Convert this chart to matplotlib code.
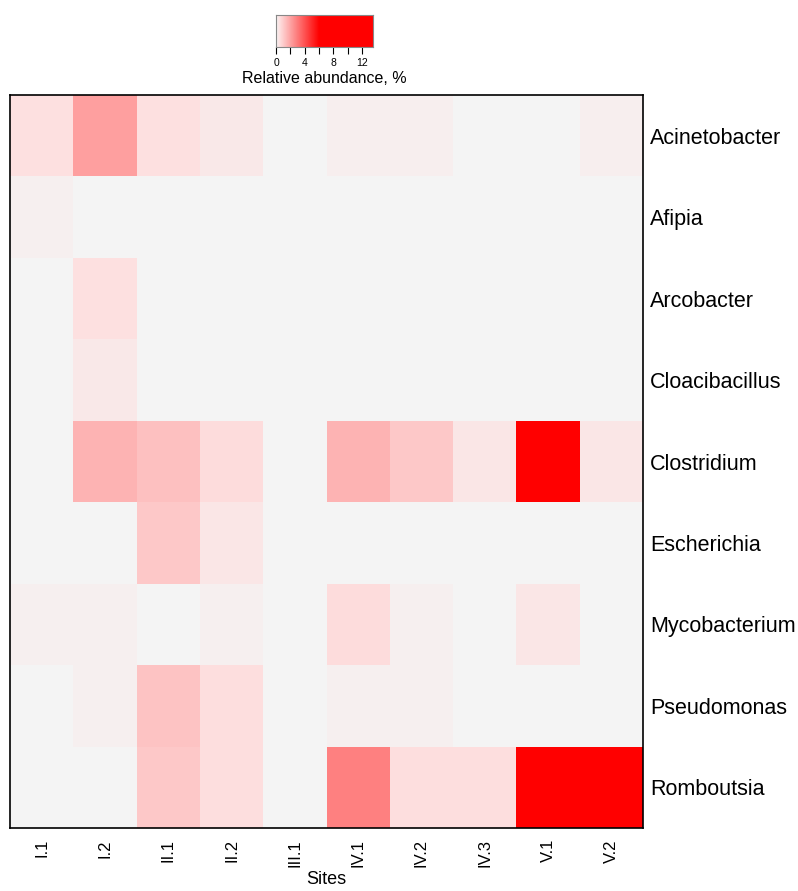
import matplotlib.pyplot as plt
import numpy as np
from matplotlib.colors import LinearSegmentedColormap

plt.rcParams['font.family'] = ['Liberation Sans', 'DejaVu Sans']

sites = ["I.1", "I.2", "II.1", "II.2", "III.1", "IV.1", "IV.2", "IV.3", "V.1", "V.2"]
genera = ["Acinetobacter", "Afipia", "Arcobacter", "Cloacibacillus", "Clostridium",
          "Escherichia", "Mycobacterium", "Pseudomonas", "Romboutsia"]

# relative abundance (%) per genus, one value per site
acinetobacter = [0.5, 2.1, 0.5, 0.3, 0.0, 0.15, 0.15, 0.0, 0.0, 0.15]
afipia = [0.12, 0, 0, 0, 0, 0, 0, 0, 0, 0]
arcobacter = [0, 0.5, 0, 0, 0, 0, 0, 0, 0, 0]
cloacibacillus = [0, 0.3, 0, 0, 0, 0, 0, 0, 0, 0]
clostridium = [0, 1.6, 1.3, 0.6, 0, 1.6, 1.1, 0.35, 12.5, 0.35]
escherichia = [0, 0, 1.1, 0.35, 0, 0, 0, 0, 0, 0]
mycobacterium = [0.12, 0.12, 0, 0.12, 0, 0.6, 0.12, 0, 0.35, 0]
pseudomonas = [0, 0.12, 1.2, 0.55, 0, 0.12, 0.12, 0, 0, 0]
romboutsia = [0, 0, 1.1, 0.55, 0, 2.85, 0.55, 0.55, 13.5, 9.0]

data = np.array([acinetobacter, afipia, arcobacter, cloacibacillus, clostridium,
                 escherichia, mycobacterium, pseudomonas, romboutsia])

vmax = 13.5
cmap = LinearSegmentedColormap.from_list(
    "abund", [(0, "#F4F4F4"), (0.5 / vmax, "#FDE0E0"), (6 / vmax, "#FF0000"), (1, "#FF0000")],
    N=1024)

fig = plt.figure(figsize=(7.98, 8.91), dpi=100)
W, H = 798, 891

ax = fig.add_axes([10 / W, (H - 828) / H, 633 / W, 733 / H])
ax.pcolormesh(data, cmap=cmap, vmin=0, vmax=vmax)
ax.set_xlim(0, len(sites))
ax.set_ylim(len(genera), 0)
ax.set_xticks(np.arange(len(sites)) + 0.5)
ax.set_xticklabels(sites, rotation=90, fontsize=12)
ax.set_yticks(np.arange(len(genera)) + 0.5)
ax.set_yticklabels(genera, fontsize=15.5)
ax.yaxis.tick_right()
ax.tick_params(axis="x", length=0, pad=8)
ax.tick_params(axis="y", length=0, pad=5)
for s in ax.spines.values():
    s.set_linewidth(1.2)
ax.set_xlabel("Sites", fontsize=13, labelpad=3)

# colour key above the heatmap
cax = fig.add_axes([276 / W, 1 - 47 / H, 97 / W, 32 / H])
grad = np.linspace(0, vmax, 512).reshape(1, -1)
cax.imshow(grad, cmap=cmap, vmin=0, vmax=vmax, aspect="auto",
           extent=[0, vmax, 0, 1])
cax.set_yticks([])
cax.set_xticks([0, 2, 4, 6, 8, 10, 12])
cax.set_xticklabels(["0", "", "4", "", "8", "", "12"], fontsize=7.5)
cax.tick_params(axis="x", length=5, width=0.8, pad=3)
for s in cax.spines.values():
    s.set_edgecolor("#888888")
    s.set_linewidth(0.8)
cax.set_xlabel("Relative abundance, %", fontsize=11.5, labelpad=2)

fig.savefig("out.png", dpi=100)
